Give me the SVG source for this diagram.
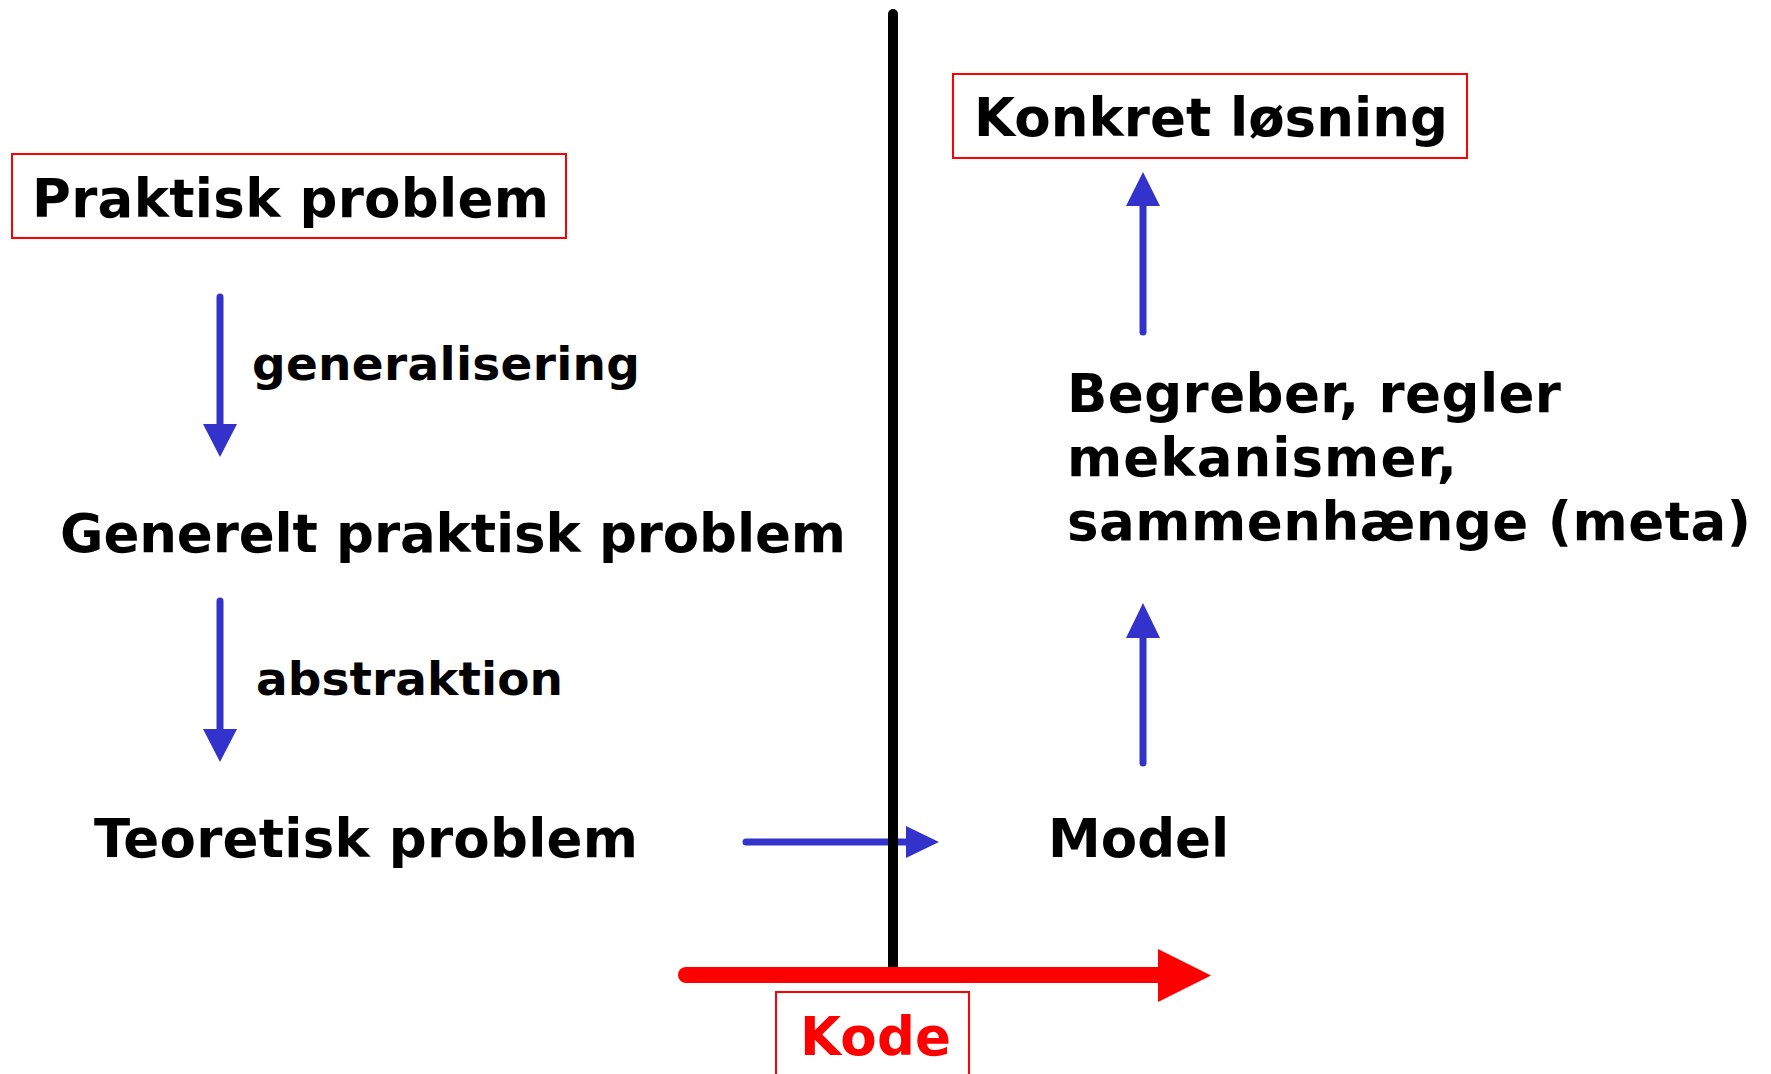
<svg xmlns="http://www.w3.org/2000/svg" width="1771" height="1074" viewBox="0 0 1771 1074">
<style>
.t{font-family:"DejaVu Sans","Verdana",sans-serif;font-weight:bold;font-size:53px;fill:#000}
.s{font-size:47px}
.box{fill:#fff;stroke:#f00;stroke-width:2}
.blue{stroke:#3333cc;stroke-width:7;stroke-linecap:round;fill:none}
.bh{fill:#3333cc}
</style>
<rect width="1771" height="1074" fill="#fff"/>
<g id="connectors">
<line class="blue" x1="220" y1="297" x2="220" y2="426"/>
<polygon class="bh" points="203,424 237,424 220,457"/>
<line class="blue" x1="220" y1="601" x2="220" y2="731"/>
<polygon class="bh" points="203,729 237,729 220,762"/>
<line class="blue" x1="746" y1="842" x2="908" y2="842"/>
<polygon class="bh" points="906,826 939,842 906,858"/>
<line class="blue" x1="1143" y1="763" x2="1143" y2="636"/>
<polygon class="bh" points="1126,638 1160,638 1143,603"/>
<line class="blue" x1="1143" y1="332" x2="1143" y2="204"/>
<polygon class="bh" points="1126,206 1160,206 1143,172"/>
<line x1="893" y1="14" x2="893" y2="970" stroke="#000" stroke-width="10" stroke-linecap="round"/>
<line x1="686" y1="975" x2="1160" y2="975" stroke="#f00" stroke-width="16" stroke-linecap="round"/>
<polygon points="1158,949 1211,975.5 1158,1002" fill="#f00"/>
</g>
<g id="praktisk">
<rect class="box" x="12" y="154" width="554" height="84"/>
<text class="t" x="32" y="217" textLength="517">Praktisk problem</text>
</g>
<g id="generalisering">
<text class="t s" x="252" y="380" textLength="388">generalisering</text>
</g>
<g id="generelt">
<text class="t" x="60" y="552" textLength="786">Generelt praktisk problem</text>
</g>
<g id="abstraktion">
<text class="t s" x="256" y="695" textLength="307">abstraktion</text>
</g>
<g id="teoretisk">
<text class="t" x="94" y="857" textLength="544">Teoretisk problem</text>
</g>
<g id="model">
<text class="t" x="1048" y="857">Model</text>
</g>
<g id="begreber">
<text class="t" x="1067" y="412" textLength="494">Begreber, regler</text>
<text class="t" x="1067" y="476" textLength="390">mekanismer,</text>
<text class="t" x="1067" y="540" textLength="684">sammenhænge (meta)</text>
</g>
<g id="konkret">
<rect class="box" x="953" y="74" width="514" height="84"/>
<text class="t" x="974" y="136" textLength="474">Konkret løsning</text>
</g>
<g id="kode">
<rect class="box" x="776" y="992" width="193" height="100"/>
<text class="t" x="800" y="1055" textLength="151" style="fill:#f00">Kode</text>
</g>
</svg>
